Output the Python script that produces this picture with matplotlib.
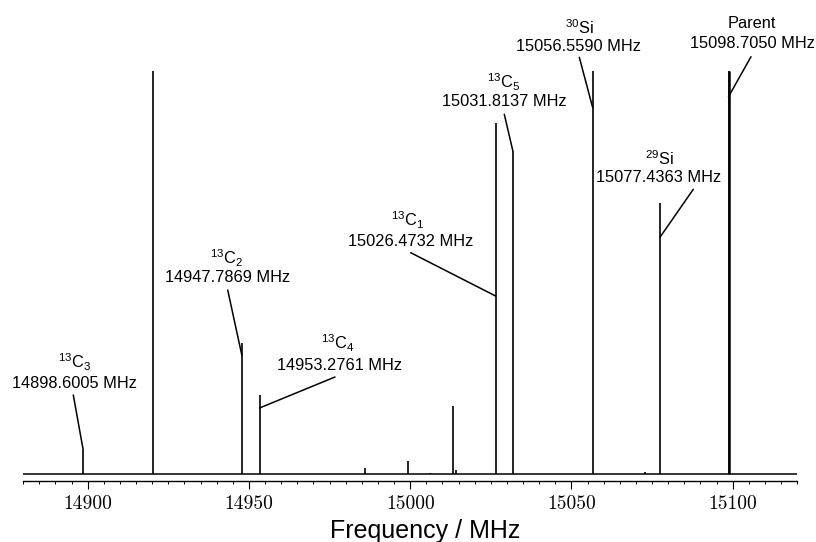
import matplotlib
matplotlib.use("Agg")
from matplotlib import pyplot as plt
from matplotlib.ticker import MultipleLocator

plt.rcParams['font.family'] = ['Liberation Sans', 'DejaVu Sans']
plt.rcParams['mathtext.fontset'] = 'custom'
plt.rcParams['mathtext.rm'] = 'Liberation Sans'
plt.rcParams['mathtext.it'] = 'Liberation Sans:italic'
plt.rcParams['mathtext.bf'] = 'Liberation Sans:bold'

# peak positions (MHz) and relative intensities
freqs = [14898.6005, 14920.2, 14947.7869, 14953.2761, 14986.0, 14999.2, 15006.1,
         15013.2, 15014.1, 15026.4732, 15031.8137, 15056.5590, 15072.8, 15077.4363,
         15098.7050]
heights = [0.060, 1.0, 0.325, 0.196, 0.016, 0.033, 0.003,
           0.169, 0.010, 0.871, 0.802, 1.0, 0.005, 0.672,
           1.0]

# assigned lines
label_names = [r'$^{13}$C$_3$', r'$^{13}$C$_2$', r'$^{13}$C$_4$', r'$^{13}$C$_1$',
               r'$^{13}$C$_5$', r'$^{30}$Si', r'$^{29}$Si', 'Parent']
label_freqs = [14898.6005, 14947.7869, 14953.2761, 15026.4732,
               15031.8137, 15056.5590, 15077.4363, 15098.7050]

# layout of the labels in figure pixels: name xy, freq xy, line start xy, line end y
label_layout = [
    ((75, 362), (74, 383), (73.3, 395), 450),
    ((227, 258), (227.5, 278), (227.7, 290), 355),
    ((338, 343), (340, 365), (335, 377), 408),
    ((408, 220), (410.8, 241.7), (410.7, 252.7), 296),
    ((504, 82), (504.2, 101.7), (504.3, 114.3), 150.7),
    ((579, 28), (579, 46.7), (579.3, 57.3), 107.3),
    ((659.5, 159), (659, 178), (693.3, 189.3), 237.3),
    ((751.7, 24), (752.5, 43.3), (751, 56.7), 96.7),
]

W, H = 816, 542
fig = plt.figure(figsize=(W / 100, H / 100), dpi=100)
ax = fig.add_axes([23.2 / W, 1 - 481 / H, 774 / W, 471 / H])

xmin, xmax = 14880, 15120
ax.set_xlim(xmin, xmax)
ax.set_ylim(-7 / 403, 464 / 403)

ax.plot([xmin, xmax], [0, 0], color='black', lw=1.1)
ax.vlines(freqs, 0, heights, color='black', lw=1.2)
ax.vlines([15098.7050], 0, [1.0], color='black', lw=1.8)


def to_fig(p):
    return p[0] / W, 1 - p[1] / H


def py_to_data(py):
    return (474 - py) / 403


for name, f, (npos, fpos, lstart, lend) in zip(label_names, label_freqs, label_layout):
    fig.text(*to_fig(npos), name, ha='center', va='center', fontsize=11.8)
    fig.text(*to_fig(fpos), "{:.4f} MHz".format(f), ha='center', va='center', fontsize=11.8)
    ax.annotate('', xy=(f, py_to_data(lend)), xycoords='data',
                xytext=to_fig(lstart), textcoords='figure fraction',
                arrowprops=dict(arrowstyle='-', color='black', lw=1.1,
                                shrinkA=0, shrinkB=0))

for side in ['top', 'left', 'right']:
    ax.spines[side].set_visible(False)
ax.spines['bottom'].set_linewidth(1.0)
ax.set_yticks([])
ax.xaxis.set_major_locator(MultipleLocator(50))
ax.xaxis.set_minor_locator(MultipleLocator(5))
ax.tick_params(axis='x', which='major', direction='out', length=5.8, width=0.8,
               pad=4, labelsize=14)
ax.tick_params(axis='x', which='minor', direction='out', length=2.5, width=0.7)
ax.set_xticks([14900, 14950, 15000, 15050, 15100])
ax.set_xticklabels(['14900', '14950', '15000', '15050', '15100'])
for lab in ax.get_xticklabels():
    lab.set_fontfamily('cmr10')
ax.set_xlabel('Frequency / MHz', fontsize=18, labelpad=5, x=0.52)

fig.savefig('out.png', dpi=100)
